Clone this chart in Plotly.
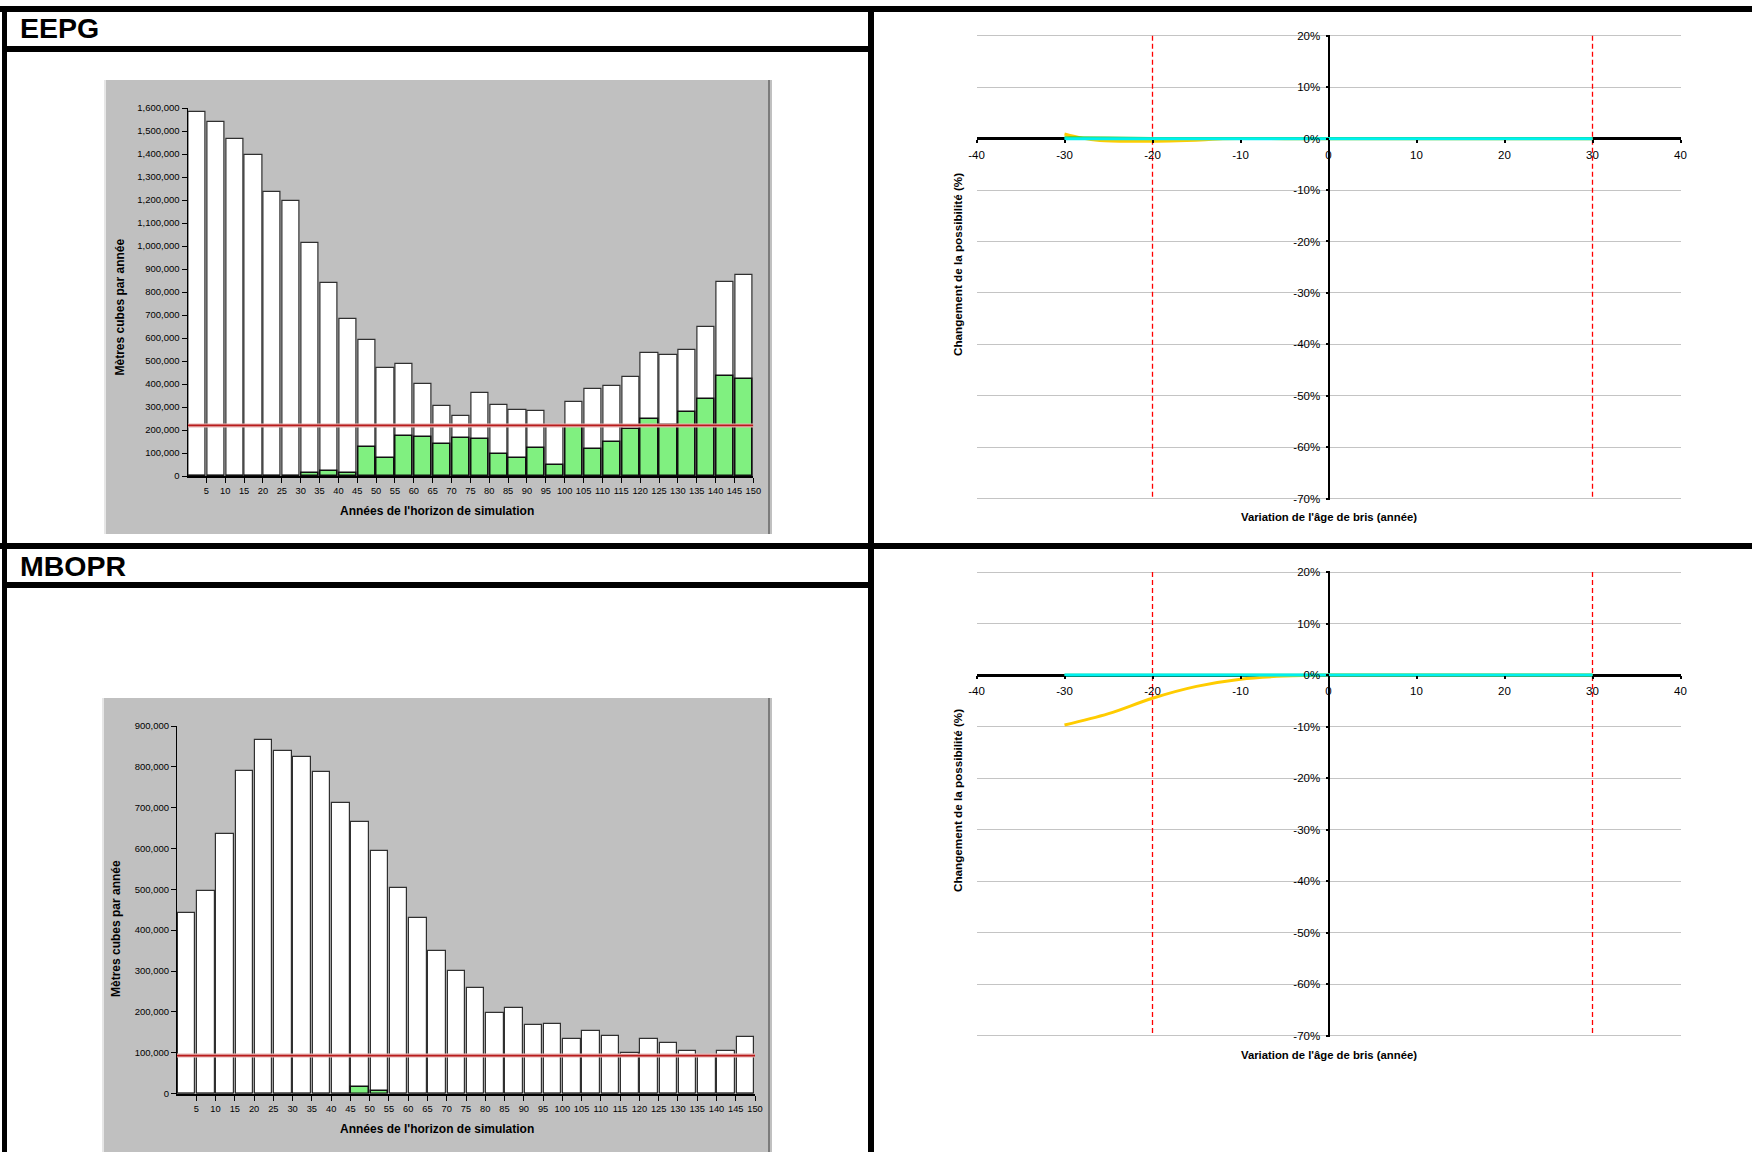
import plotly.graph_objects as go

W, H = 1752, 1152

# ---------------- data ----------------
# simulation horizon: 30 five-year periods
periods = list(range(5, 155, 5))
period_ticks = periods

# EEPG : harvest volume per period (m3 / year) and its green share
eepg_total = [1583000, 1539000, 1465000, 1395000, 1236000, 1196000, 1011000, 839000,
              682000, 592000, 470000, 487000, 399000, 303000, 259000, 361000, 307000,
              289000, 284000, 216000, 320000, 377000, 393000, 429000, 534000, 524000,
              550000, 649000, 842000, 876000]
eepg_green = [0, 0, 0, 0, 0, 0, 14000, 23000, 15000, 128000, 80000, 176000, 170000,
              140000, 166000, 161000, 95000, 79000, 120000, 50000, 213000, 116000,
              149000, 206000, 246000, 220000, 278000, 333000, 436000, 422000]
eepg_target = 220000

# MBOPR
mbopr_total = [443000, 496000, 635000, 790000, 866000, 838000, 825000, 787000, 711000,
               666000, 594000, 504000, 430000, 348000, 301000, 258000, 197000, 210000,
               167000, 170000, 134000, 154000, 141000, 100000, 133000, 123000, 103000,
               93000, 105000, 139000]
mbopr_green = [0, 0, 0, 0, 0, 0, 0, 0, 0, 15000, 5000, 0, 0, 0, 0, 0, 0, 0, 0, 0,
               0, 0, 0, 0, 0, 0, 0, 0, 0, 0]
mbopr_target = 93000

# sensitivity of the allowable cut to the break-up age shift
eepg_yellow_x = [-30, -28, -26, -22, -18, -14, -12, -5, 0, 10, 20, 30]
eepg_yellow_y = [0.9, 0.1, -0.35, -0.5, -0.45, -0.2, 0.0, 0, 0, 0, 0, 0]
eepg_green_x = [-30, -25, -20, -15, -10, -5, 0, 5, 10, 15, 20, 25, 30]
eepg_green_y = [0.2, 0.15, 0.1, 0.1, 0.1, 0.1, 0.1, 0.1, 0.1, 0.1, 0.1, 0.1, 0.1]
eepg_cyan_x = [-30, -20, -10, 0, 10, 20, 30]
eepg_cyan_y = [0, 0, 0, 0, 0, 0, 0]

mbopr_yellow_x = [-30, -25, -20, -15, -10, -5, 0, 5, 10, 15, 20, 25, 30]
mbopr_yellow_y = [-9.7, -7.5, -4.5, -2.2, -0.8, -0.2, 0, 0, 0, 0, 0, 0, 0]
mbopr_green_x = [-30, -20, -10, 0, 10, 20, 30]
mbopr_green_y = [0, 0, 0, 0, 0, 0, 0]
mbopr_cyan_x = [-30, -20, -10, 0, 10, 20, 30]
mbopr_cyan_y = [0, 0, 0, 0, 0, 0, 0]

limit_ages = [-20, 30]
pct_ticks = [20, 10, 0, -10, -20, -30, -40, -50, -60, -70]
pct_labels = [f"{v}%" for v in pct_ticks]
shift_ticks = [-40, -30, -20, -10, 0, 10, 20, 30, 40]
shift_labels = [str(v) for v in shift_ticks]


def px(x):
    return x / W


def py(y):
    return 1 - y / H


FONT = "Liberation Sans, Arial, sans-serif"
centers = [p - 2.5 for p in periods]

fig = go.Figure()


def add_harvest(total, green, target, xa, ya):
    fig.add_trace(go.Bar(x=centers, y=total, width=4.55, xaxis=xa, yaxis=ya,
                         marker=dict(color="white", line=dict(color="#303030", width=1.2))))
    fig.add_trace(go.Bar(x=centers, y=green, width=4.55, xaxis=xa, yaxis=ya,
                         marker=dict(color="#80f080", line=dict(color="#101010", width=1.5))))
    tx = [0, periods[-1]]
    fig.add_trace(go.Scatter(x=tx, y=[target, target], mode="lines", xaxis=xa, yaxis=ya,
                             line=dict(color="#e8b4b4", width=4)))
    fig.add_trace(go.Scatter(x=tx, y=[target, target], mode="lines", xaxis=xa, yaxis=ya,
                             line=dict(color="#b81c1c", width=1.8)))


def add_sensitivity(series, xa, ya):
    for lx in limit_ages:
        fig.add_trace(go.Scatter(x=[lx, lx], y=[pct_ticks[0], pct_ticks[-1]], mode="lines",
                                 xaxis=xa, yaxis=ya,
                                 line=dict(color="#ff0000", width=1.3, dash="5px,3px")))
    for (sx, sy, col, w) in series:
        fig.add_trace(go.Scatter(x=sx, y=sy, mode="lines", xaxis=xa, yaxis=ya,
                                 line=dict(color=col, width=w, shape="spline", smoothing=1)))


add_harvest(eepg_total, eepg_green, eepg_target, "x", "y")
add_harvest(mbopr_total, mbopr_green, mbopr_target, "x3", "y3")
add_sensitivity([(eepg_yellow_x, eepg_yellow_y, "#ffcc00", 3),
                 (eepg_green_x, eepg_green_y, "#33cc33", 2.5),
                 (eepg_cyan_x, eepg_cyan_y, "#00f0f0", 3)], "x2", "y2")
add_sensitivity([(mbopr_yellow_x, mbopr_yellow_y, "#ffcc00", 3),
                 (mbopr_green_x, mbopr_green_y, "#33cc33", 2.5),
                 (mbopr_cyan_x, mbopr_cyan_y, "#00f0f0", 3)], "x4", "y4")

bar_x = dict(range=[0, 150], tickvals=period_ticks, ticks="outside", ticklen=5, tickwidth=1,
             tickcolor="black", showline=True, linecolor="black", linewidth=2,
             showgrid=False, zeroline=False, automargin=False,
             tickfont=dict(size=9.3, color="black", family=FONT))
bar_y = dict(dtick=100000, tickformat=",d", ticks="outside", ticklen=5, tickwidth=1,
             tickcolor="black", showline=True, linecolor="black", linewidth=1,
             showgrid=False, zeroline=False, automargin=False,
             tickfont=dict(size=9.5, color="black", family=FONT))

# percent axis runs a hair past -70 / 20 so that the end grid lines are kept
PAD = 0.25
PCT_PX = (498.6 - 35.8) / 90.0
sens_x = dict(range=[-40, 40], tickvals=shift_ticks, ticktext=shift_labels, ticks="outside",
              ticklen=3, tickwidth=1.5, tickcolor="black", showline=False, showgrid=False,
              zeroline=True, zerolinecolor="black", zerolinewidth=2, automargin=False,
              ticklabelstandoff=2,
              tickfont=dict(size=11.5, color="black", family=FONT))
sens_y = dict(range=[-70 - PAD, 20 + PAD], tickvals=pct_ticks, ticktext=pct_labels,
              ticks="outside", ticklen=3, tickwidth=1.5, tickcolor="black", showline=False,
              showgrid=True, gridcolor="#c4c4c4", gridwidth=1, zeroline=True,
              zerolinecolor="black", zerolinewidth=3, automargin=False,
              ticklabelstandoff=3,
              tickfont=dict(size=11.5, color="black", family=FONT))
pad_px = PAD * PCT_PX

fig.update_layout(
    width=W, height=H, margin=dict(l=0, r=0, t=0, b=0, pad=0, autoexpand=False),
    autosize=False,
    paper_bgcolor="white", plot_bgcolor="rgba(0,0,0,0)", showlegend=False,
    barmode="overlay", bargap=0, hovermode=False,
    font=dict(family=FONT, color="black"),
    xaxis=dict(bar_x, domain=[px(187.5), px(753.3)], anchor="y"),
    yaxis=dict(bar_y, domain=[py(476), py(108)], range=[0, 1600000], anchor="x"),
    xaxis3=dict(bar_x, domain=[px(177), px(755)], anchor="y3"),
    yaxis3=dict(bar_y, domain=[py(1093.5), py(726)], range=[0, 900000], anchor="x3"),
    xaxis2=dict(sens_x, domain=[px(976.5), px(1680.5)], anchor="free", position=py(138.8)),
    yaxis2=dict(sens_y, domain=[py(498.6 + pad_px), py(35.8 - pad_px)], anchor="free",
                position=px(1328.5)),
    xaxis4=dict(sens_x, domain=[px(976.5), px(1680.5)], anchor="free", position=py(674.9)),
    yaxis4=dict(sens_y, domain=[py(1035.7 + pad_px), py(572 - pad_px)], anchor="free",
                position=px(1328.5)),
)

shapes = []
# grey chart panels
for (x0, x1, y0, y1) in [(104, 772, 80, 534), (102, 772, 698, 1152)]:
    shapes.append(dict(type="rect", xref="paper", yref="paper", layer="below",
                       x0=px(x0), x1=px(x1), y0=py(y1), y1=py(y0),
                       fillcolor="#c0c0c0", line=dict(width=0)))
    shapes.append(dict(type="line", xref="paper", yref="paper", layer="below",
                       x0=px(x0 + 1), x1=px(x0 + 1), y0=py(y1), y1=py(y0),
                       line=dict(color="#e6e6e6", width=2)))
    shapes.append(dict(type="line", xref="paper", yref="paper", layer="below",
                       x0=px(x1 - 3), x1=px(x1 - 3), y0=py(y1), y1=py(y0),
                       line=dict(color="#7c7c7c", width=2)))
# table frame
for (x0, x1, y0, y1) in [(0, 1752, 6, 12), (2, 7, 6, 1152), (868, 874, 6, 1152),
                         (2, 874, 46, 52), (0, 1752, 543, 549), (2, 874, 582, 588)]:
    shapes.append(dict(type="rect", xref="paper", yref="paper", layer="above",
                       x0=px(x0), x1=px(x1), y0=py(y1), y1=py(y0),
                       fillcolor="black", line=dict(width=0)))
fig.update_layout(shapes=shapes)


def label(text, x, y, size, angle=0, xanchor="center"):
    return dict(text=text, x=px(x), y=py(y), xref="paper", yref="paper",
                xanchor=xanchor, yanchor="middle", textangle=angle, showarrow=False,
                font=dict(size=size, family=FONT, color="black"))


ann = []
for (txt, y) in [("EEPG", 28), ("MBOPR", 566)]:
    ann.append(label(f"<b>{txt}</b>", 18, y, 28.5, xanchor="left"))
for (x, y) in [(119.5, 307), (116, 929)]:
    ann.append(label("<b>Mètres cubes par année</b>", x, y, 12, angle=-90))
for y in [510.6, 1128.5]:
    ann.append(label("<b>Années de l'horizon de simulation</b>", 437, y, 12))
for y in [265, 801]:
    ann.append(label("<b>Changement de la possibilité (%)</b>", 957, y, 11.7, angle=-90))
for y in [517, 1054.7]:
    ann.append(label("<b>Variation de l'âge de bris (année)</b>", 1328.5, y, 11.3))
fig.update_layout(annotations=ann)

fig.write_html("out.html",
               post_script="document.body.style.margin='0px';"
                           "document.body.style.overflow='hidden';")
